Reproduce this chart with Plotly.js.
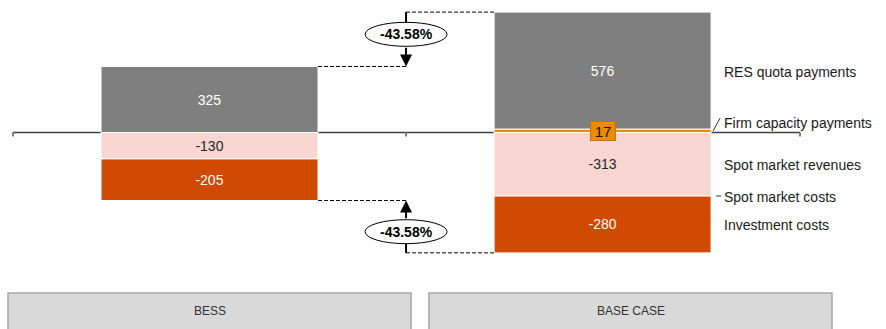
<!DOCTYPE html>
<html>
<head>
<meta charset="utf-8">
<script src="https://cdn.plot.ly/plotly-3.0.1.min.js"></script>
<style>html,body{margin:0;padding:0;background:#fff;}#chart{width:886px;height:329px;}</style>
</head>
<body>
<div id="chart"></div>
<script>
// ---- data ----
const categories = ['BESS', 'BASE CASE'];
const firmCapacity = [0, 17];
const resQuota = [325, 576];
const spotRevenues = [-130, -313];
const investmentCosts = [-205, -280];
const seriesLabels = ['RES quota payments', 'Firm capacity payments', 'Spot market revenues', 'Spot market costs', 'Investment costs'];
const pctLabels = ['-43.58%', '-43.58%'];

// ---- geometry helpers ----
const W = 886, H = 329;
const yRange = [-968, 652.7];
const xRange = [-0.533, 1.721];
const barW = 0.552;
const pxPerUnit = H / (yRange[1] - yRange[0]);
const y2px = v => (yRange[1] - v) * pxPerUnit;
const px2y = p => yRange[1] - p / pxPerUnit;
const xp = p => p / W;

const font = 'Arial, "Liberation Sans", sans-serif';
const cGray = '#7f7f7f', cOrange = '#eb8c00', cPink = '#f9d6d2', cRed = '#d04a02';

function barTrace(name, vals, color, txtColors, showText) {
  return {
    type: 'bar', x: categories, y: vals, name: name,
    marker: {color: color, line: {color: '#ffffff', width: 1}},
    text: vals.map(v => String(v)),
    textposition: showText ? 'inside' : 'none',
    insidetextanchor: 'middle',
    textangle: 0,
    constraintext: 'none',
    textfont: {family: font, size: 14, color: txtColors},
    hoverinfo: 'skip'
  };
}

const traces = [
  barTrace(seriesLabels[1], firmCapacity, cOrange, ['#000', '#000'], false),
  barTrace(seriesLabels[0], resQuota, cGray, ['#fff', '#fff'], true),
  barTrace(seriesLabels[2], spotRevenues, cPink, ['#262626', '#262626'], true),
  barTrace(seriesLabels[4], investmentCosts, cRed, ['#fff', '#fff'], true)
];

// totals
const posTot = categories.map((c, i) => firmCapacity[i] + resQuota[i]);
const negTot = categories.map((c, i) => spotRevenues[i] + investmentCosts[i]);

const shapes = [];
const annotations = [];

// axis line + ticks
shapes.push({type: 'line', layer: 'below', xref: 'paper', yref: 'y', x0: xp(13), x1: xp(800), y0: 0, y1: 0, line: {color: '#404040', width: 1.3}});
[13, 406, 800].forEach(px => {
  shapes.push({type: 'line', layer: 'below', xref: 'paper', yref: 'y', ysizemode: 'pixel', yanchor: 0,
    x0: xp(px), x1: xp(px), y0: 0, y1: -4, line: {color: '#808080', width: 2}});
});

// comparison markers
const midX = 0.5;
const rEdge0 = 0 + barW / 2, lEdge1 = 1 - barW / 2;
const dash = {color: '#000', width: 1, dash: '4px,2px'};
function comparison(yB, yA, label, shiftPx) {
  shapes.push({type: 'line', xref: 'x', yref: 'y', x0: rEdge0, x1: midX, y0: yB, y1: yB, line: dash});
  shapes.push({type: 'line', xref: 'x', yref: 'y', x0: midX, x1: lEdge1, y0: yA, y1: yA, line: dash});
  const cPx = (y2px(yA) + y2px(yB)) / 2 + shiftPx;
  const up = yA > yB;
  const ovTop = cPx - 12, ovBot = cPx + 12;
  const nearA = up ? ovTop : ovBot, nearB = up ? ovBot : ovTop;
  shapes.push({type: 'line', xref: 'x', yref: 'y', x0: midX, x1: midX, y0: yA, y1: px2y(nearA), line: {color: '#000', width: 2}});
  shapes.push({type: 'circle', xref: 'x', yref: 'y', xsizemode: 'pixel', ysizemode: 'pixel', xanchor: midX, yanchor: px2y(cPx),
    x0: -41, x1: 41, y0: -12, y1: 12, fillcolor: '#fff', line: {color: '#000', width: 1}, layer: 'above'});
  annotations.push({xref: 'x', yref: 'y', x: midX, y: yB, text: '', showarrow: true, axref: 'pixel', ayref: 'pixel',
    ax: 0, ay: nearB - y2px(yB), arrowhead: 2, arrowsize: 1.2, arrowwidth: 2, arrowcolor: '#000', standoff: 0, startstandoff: 0});
  annotations.push({xref: 'x', yref: 'y', x: midX, y: px2y(cPx), text: '<b>' + label + '</b>', showarrow: false,
    yanchor: 'middle', font: {family: font, size: 14, color: '#000'}});
}
comparison(posTot[0], posTot[1], pctLabels[0], -5);
comparison(negTot[0], negTot[1], pctLabels[1], 5);

// 17 label box
annotations.push({xref: 'x', yref: 'y', x: 1, y: firmCapacity[1] / 2, text: String(firmCapacity[1]), showarrow: false,
  font: {family: font, size: 15, color: '#111'}, bgcolor: cOrange, bordercolor: '#c77400', borderwidth: 1, borderpad: 1, width: 22, height: 16});

// right side labels
const lx = 1 + barW / 2;
function sideLabel(text, yv, yshift) {
  annotations.push({xref: 'x', yref: 'y', x: lx, y: yv, xanchor: 'left', yanchor: 'middle', xshift: 11, yshift: yshift || 0,
    text: text, showarrow: false, font: {family: font, size: 14, color: '#1a1a1a'}});
}
sideLabel(seriesLabels[0], firmCapacity[1] + resQuota[1] / 2, -1);
sideLabel(seriesLabels[1], 0, 9.5);
sideLabel(seriesLabels[2], spotRevenues[1] / 2, -1);
sideLabel(seriesLabels[3], spotRevenues[1], -1);
sideLabel(seriesLabels[4], spotRevenues[1] + investmentCosts[1] / 2, -1);
shapes.push({type: 'line', xref: 'x', yref: 'y', xsizemode: 'pixel', ysizemode: 'pixel', xanchor: lx, yanchor: 0,
  x0: 2, x1: 9, y0: 1.5, y1: 14.5, line: {color: '#333', width: 1}});
shapes.push({type: 'line', xref: 'x', yref: 'y', xsizemode: 'pixel', xanchor: lx,
  x0: 5, x1: 10, y0: spotRevenues[1], y1: spotRevenues[1], line: {color: '#333', width: 1}});

// category boxes
const boxes = [[8, 411], [429, 832]];
categories.forEach((c, i) => {
  shapes.push({type: 'rect', xref: 'paper', yref: 'paper', x0: xp(boxes[i][0]), x1: xp(boxes[i][1]),
    y0: -0.1, y1: (H - 293) / H, fillcolor: '#d9d9d9', line: {color: '#a6a6a6', width: 1.5}, layer: 'above'});
  annotations.push({xref: 'paper', yref: 'paper', x: xp((boxes[i][0] + boxes[i][1]) / 2), y: (H - 311) / H,
    xanchor: 'center', yanchor: 'middle',
    text: c, showarrow: false, font: {family: font, size: 12, color: '#333'}});
});

const layout = {
  width: W, height: H,
  margin: {l: 0, r: 0, t: 0, b: 0, pad: 0},
  paper_bgcolor: '#fff', plot_bgcolor: '#fff',
  barmode: 'relative', bargap: 1 - barW,
  showlegend: false,
  xaxis: {type: 'category', range: xRange, visible: false, fixedrange: true},
  yaxis: {range: yRange, visible: false, fixedrange: true},
  shapes: shapes, annotations: annotations,
  hovermode: false
};
Plotly.newPlot('chart', traces, layout, {staticPlot: true, displayModeBar: false});
</script>
</body>
</html>
